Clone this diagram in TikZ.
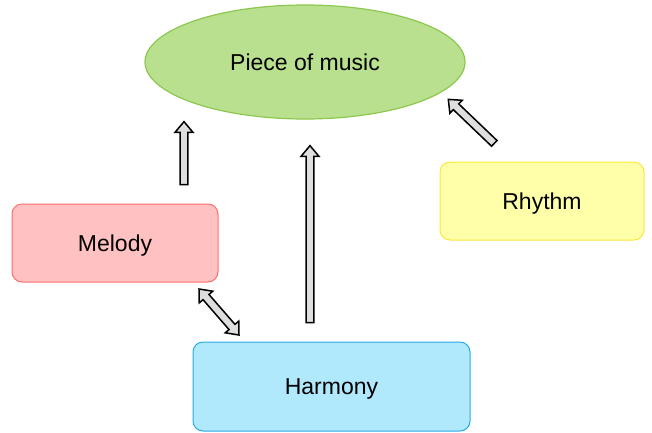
\documentclass[tikz,border=0pt]{standalone}
\usepackage{fontspec}
\setmainfont{Liberation Sans}
\usetikzlibrary{shapes.geometric,shapes.arrows,calc}

\definecolor{musicfill}{RGB}{185,224,143}
\definecolor{musicline}{RGB}{140,200,80}
\definecolor{melfill}{RGB}{255,193,193}
\definecolor{melline}{RGB}{255,110,110}
\definecolor{rhyfill}{RGB}{255,255,170}
\definecolor{rhyline}{RGB}{250,232,60}
\definecolor{harfill}{RGB}{176,232,252}
\definecolor{harline}{RGB}{40,170,230}
\definecolor{arrfill}{RGB}{222,222,222}

\tikzset{
  lbl/.style={font=\fontsize{23}{27}\selectfont, text height=16.5pt, text depth=0pt},
  box/.style={lbl, rectangle, rounded corners=10pt, line width=1pt, inner sep=0pt},
  blockarr/.style={single arrow, draw=black, fill=arrfill, line width=1.5pt,
    inner sep=3.2pt, single arrow head extend=5pt, single arrow tip angle=80,
    single arrow head indent=0pt},
  dblockarr/.style={double arrow, draw=black, fill=arrfill, line width=1.5pt,
    inner sep=3.2pt, double arrow head extend=5pt, double arrow tip angle=80,
    double arrow head indent=0pt},
}

% block arrow between two coordinates
\newcommand{\blockarrow}[3][blockarr]{%
  \path let \p1=($(#3)-(#2)$) in
    node[#1, minimum height={veclen(\x1,\y1)}, rotate={atan2(\y1,\x1)}]
    at ($(#2)!0.5!(#3)$) {};}

\begin{document}
\begin{tikzpicture}[x=1pt,y=-1pt]
  \useasboundingbox (0,0) rectangle (652,432);

  %PIECE OF MUSIC
  \node[lbl, ellipse, draw=musicline, fill=musicfill, line width=1.2pt, inner sep=0pt,
        minimum width=320, minimum height=114] (music) at (305,62) {Piece of music};
  %BOXES
  \node[box, draw=melline, fill=melfill, minimum width=206, minimum height=78]
        (melody) at (115,243) {Melody};
  \node[box, draw=rhyline, fill=rhyfill, minimum width=204, minimum height=78]
        (rhythm) at (542,201) {Rhythm};
  \node[box, draw=harline, fill=harfill, minimum width=277, minimum height=89]
        (harmony) at (331.5,386.5) {Harmony};

  %ARROWS
  \coordinate (melT) at (184,187);
  \coordinate (melH) at (184,124);
  \coordinate (harT) at (310,325);
  \coordinate (harH) at (310,148);
  \coordinate (rhyT) at (496,145);
  \coordinate (rhyH) at (450,101);
  \coordinate (mhA) at (199,289);
  \coordinate (mhB) at (239,335);
  \blockarrow{melT}{melH}
  \blockarrow{harT}{harH}
  \blockarrow{rhyT}{rhyH}
  \blockarrow[dblockarr]{mhA}{mhB}
\end{tikzpicture}
\end{document}
